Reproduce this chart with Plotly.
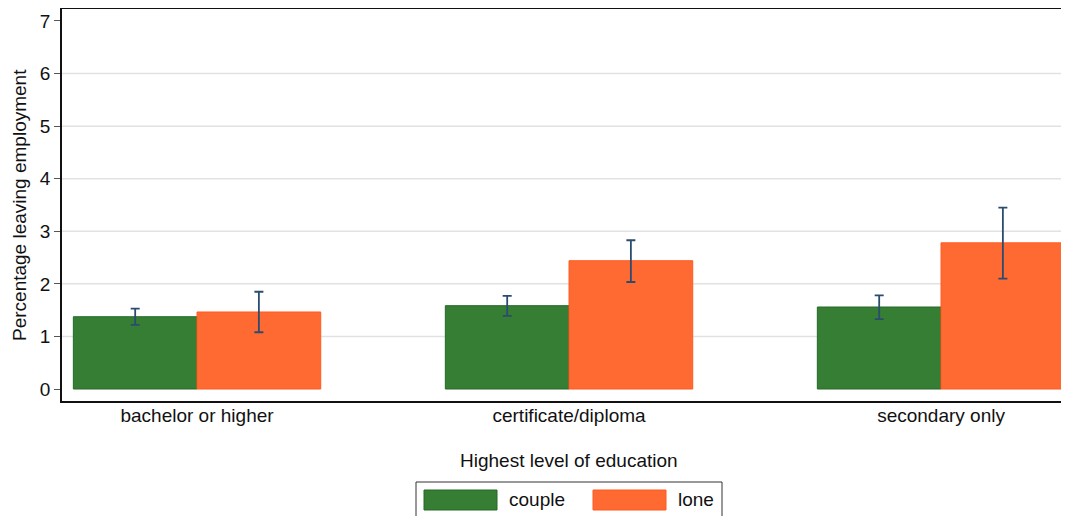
import plotly.graph_objects as go

categories = ["bachelor or higher", "certificate/diploma", "secondary only"]
series_names = ["couple", "lone"]
couple_vals = [1.375, 1.585, 1.56]
couple_hi = [1.53, 1.77, 1.78]
couple_lo = [1.22, 1.39, 1.33]
lone_vals = [1.465, 2.44, 2.78]
lone_hi = [1.85, 2.83, 3.45]
lone_lo = [1.08, 2.035, 2.10]
y_ticks = [0, 1, 2, 3, 4, 5, 6, 7]

fill_colors = ["#367E33", "#FF6A33"]
line_colors = ["#25692A", "#FF5A1F"]
err_color = "#2B4C6F"
FONT = "Liberation Sans, Arial, Helvetica, sans-serif"
FS = 19

# page has an 8px body margin; figure coordinates = screenshot coordinates - 8
OFF = 8
W, H = 1061, 508
ML, MR, MT = 54, 0, 1
PLOT_BOTTOM = 393
MB = H - PLOT_BOTTOM
PW, PH = W - ML - MR, H - MT - MB

def px_x(sx):
    return (sx - OFF - ML) / PW

def px_y(sy):
    return (PLOT_BOTTOM - (sy - OFF)) / PH

fig = go.Figure()
for name, vals, hi, lo, fc, lc in [
    (series_names[0], couple_vals, couple_hi, couple_lo, fill_colors[0], line_colors[0]),
    (series_names[1], lone_vals, lone_hi, lone_lo, fill_colors[1], line_colors[1]),
]:
    fig.add_trace(go.Bar(
        x=categories, y=vals, name=name,
        marker=dict(color=fc, line=dict(color=lc, width=1)),
        error_y=dict(type="data", symmetric=False,
                     array=[h - v for h, v in zip(hi, vals)],
                     arrayminus=[v - l for v, l in zip(vals, lo)],
                     color=err_color, thickness=1.8, width=4.5),
        showlegend=False,
    ))

fig.update_layout(
    width=W, height=H,
    margin=dict(l=ML, r=MR, t=MT, b=MB),
    paper_bgcolor="white", plot_bgcolor="white",
    barmode="group", bargap=0.335, bargroupgap=0,
    font=dict(family=FONT, size=FS, color="#111"),
    showlegend=False,
)
fig.update_xaxes(
    range=[-0.363, 2.344], showline=True, linecolor="#111", linewidth=1.5, mirror=True,
    ticks="", showgrid=False, tickfont=dict(size=FS, color="#111"),
    ticklabelstandoff=-4,
)
fig.update_yaxes(
    range=[-0.228, 7.228], tickvals=y_ticks, ticks="outside", ticklen=6, tickcolor="#555",
    showline=True, linecolor="#111", linewidth=1.5, mirror=False,
    showgrid=False, zeroline=False, tickfont=dict(size=FS, color="#111"),
)

# light gridlines at interior ticks
for t in y_ticks[1:-1]:
    fig.add_shape(type="line", xref="paper", yref="y", x0=0, x1=1, y0=t, y1=t,
                  line=dict(color="#E2E2E2", width=1.5), layer="below")

# axis titles
fig.add_annotation(text="Percentage leaving employment", xref="paper", yref="paper",
                   x=px_x(19), y=0.5, textangle=-90, showarrow=False,
                   xanchor="center", yanchor="middle", font=dict(size=FS, color="#111"))
fig.add_annotation(text="Highest level of education", xref="paper", yref="paper",
                   x=px_x(569), y=px_y(460), showarrow=False,
                   xanchor="center", yanchor="middle", font=dict(size=FS, color="#111"))

# custom legend (box runs off the bottom of the page, as in the reference)
fig.add_shape(type="rect", xref="paper", yref="paper",
              x0=px_x(416), x1=px_x(722), y0=px_y(482), y1=px_y(540),
              line=dict(color="#333", width=1), fillcolor="white")
sw_x = [424, 593]
tx_x = [507, 676]
for i, name in enumerate(series_names):
    fig.add_shape(type="rect", xref="paper", yref="paper",
                  x0=px_x(sw_x[i]), x1=px_x(sw_x[i] + 73), y0=px_y(490), y1=px_y(510),
                  line=dict(color=line_colors[i], width=1), fillcolor=fill_colors[i])
    fig.add_annotation(text=name, xref="paper", yref="paper",
                       x=px_x(tx_x[i]), y=px_y(500), showarrow=False,
                       xanchor="left", yanchor="middle", font=dict(size=FS, color="#111"))

fig.write_html("out.html", post_script="document.body.style.overflow='hidden';")
